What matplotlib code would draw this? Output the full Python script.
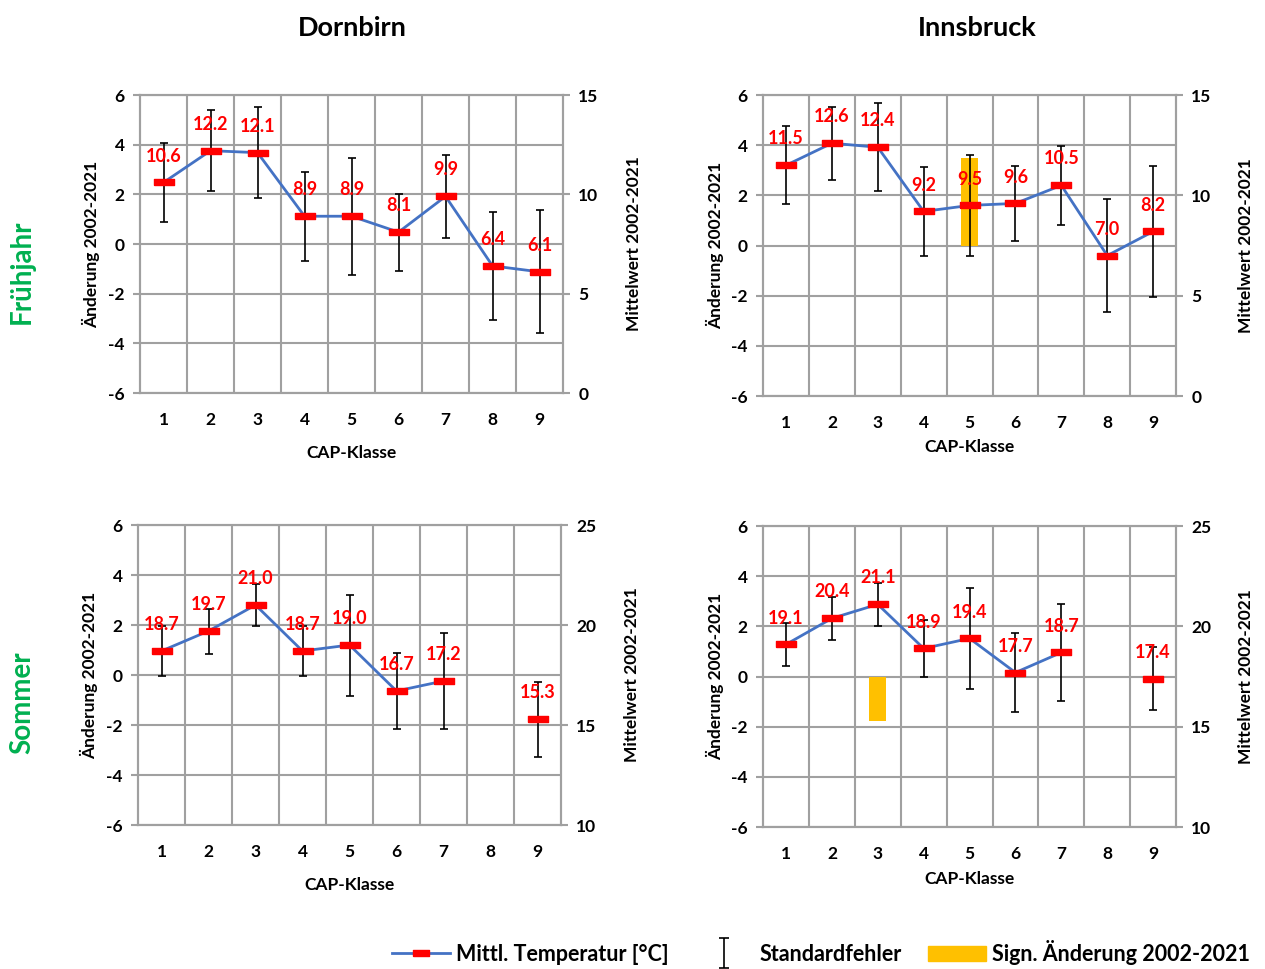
import numpy as np
import matplotlib
matplotlib.use("Agg")
import matplotlib.pyplot as plt
from matplotlib.lines import Line2D
from matplotlib.patches import Patch
from matplotlib.path import Path

plt.rcParams['font.family'] = ['Lato', 'DejaVu Sans']
plt.rcParams['font.weight'] = 'bold'
plt.rcParams['axes.labelweight'] = 'bold'
plt.rcParams['axes.unicode_minus'] = False

klassen = np.arange(1, 10)

# mittlere Temperatur je CAP-Klasse (rechte Achse)
dornbirn_fj_mittel = [10.6, 12.2, 12.1, 8.9, 8.9, 8.1, 9.9, 6.4, 6.1]
innsbruck_fj_mittel = [11.5, 12.6, 12.4, 9.2, 9.5, 9.6, 10.5, 7.0, 8.2]
dornbirn_so_mittel = [18.7, 19.7, 21.0, 18.7, 19.0, 16.7, 17.2, np.nan, 15.3]
innsbruck_so_mittel = [19.1, 20.4, 21.1, 18.9, 19.4, 17.7, 18.7, np.nan, 17.4]

# Standardfehler der Aenderung (linke Achse)
dornbirn_fj_fehler = [1.58, 1.63, 1.83, 1.80, 2.35, 1.55, 1.68, 2.18, 2.48]
innsbruck_fj_fehler = [1.55, 1.45, 1.75, 1.78, 2.02, 1.48, 1.58, 2.25, 2.62]
dornbirn_so_fehler = [1.00, 0.90, 0.85, 1.00, 2.02, 1.52, 1.93, np.nan, 1.50]
innsbruck_so_fehler = [0.87, 0.86, 0.85, 1.12, 2.03, 1.57, 1.93, np.nan, 1.27]

# signifikante Aenderung 2002-2021 (NaN = nicht signifikant)
dornbirn_fj_sign = [np.nan] * 9
innsbruck_fj_sign = [np.nan, np.nan, np.nan, np.nan, 3.5, np.nan, np.nan, np.nan, np.nan]
dornbirn_so_sign = [np.nan] * 9
innsbruck_so_sign = [np.nan, np.nan, -1.78, np.nan, np.nan, np.nan, np.nan, np.nan, np.nan]

blau = '#4472C4'
rot = '#FF0000'
orange = '#FFC000'
grau = '#A0A0A0'

# liegender Balken als Marker
balken = [(-1, -0.33), (1, -0.33), (1, 0.33), (-1, 0.33), (-1, -0.33)]


def panel(rect, mittel, fehler, sign, rechts, xlab_y):
    ax = fig.add_axes(rect)
    ax2 = ax.twinx()
    ax.set_xlim(0.5, 9.5)
    ax.set_ylim(-6, 6)
    ax.set_yticks([-6, -4, -2, 0, 2, 4, 6])
    ax2.set_ylim(rechts)
    ax2.set_yticks(np.linspace(rechts[0], rechts[1], 4))
    ax.set_xticks(klassen)
    ax.set_xticks(np.arange(1.5, 9.5, 1), minor=True)
    ax.grid(True, which='minor', axis='x', color=grau, lw=1.5)
    ax.grid(True, which='major', axis='y', color=grau, lw=1.5)
    for a in (ax, ax2):
        for s in a.spines.values():
            s.set_color(grau)
            s.set_linewidth(1.5)
        a.tick_params(axis='y', colors=grau, length=5, width=1.5,
                      labelcolor='black', labelsize=12.5, pad=6)
    ax.tick_params(axis='x', which='both', length=0, labelsize=12.5, pad=14)
    ax.set_axisbelow(True)

    # signifikante Aenderung
    ax.bar(klassen, sign, width=0.38, color=orange, zorder=2)

    faktor = (rechts[1] - rechts[0]) / 12.0
    yerr = np.array(fehler) * faktor
    ax2.errorbar(klassen, mittel, yerr=yerr, fmt='none', ecolor='black',
                 elinewidth=1.2, capsize=3, capthick=1.2, zorder=3)
    ax2.plot(klassen, mittel, color=blau, lw=2, zorder=4)
    ax2.plot(klassen, mittel, ls='none', marker=balken, markersize=15,
             color=rot, mec=rot, zorder=5)
    for x, v in zip(klassen, mittel):
        if not np.isnan(v):
            ax2.annotate(f'{v:.1f}', (x, v), xytext=(0, 19),
                         textcoords='offset points', ha='center', va='center',
                         color=rot, fontsize=13, fontweight='bold', zorder=6)

    ax.set_ylabel('Änderung 2002-2021', fontsize=12.5)
    ax2.set_ylabel('Mittelwert 2002-2021', fontsize=12.5)
    ax.yaxis.set_label_coords(-0.095, 0.5)
    ax2.yaxis.set_label_coords(1.149, 0.5)
    ax.set_xlabel('CAP-Klasse', fontsize=12.5)
    ax.xaxis.set_label_coords(0.5, xlab_y)
    return ax


fig = plt.figure(figsize=(12.65, 9.69), dpi=100)

panel([0.1107, 0.5944, 0.3344, 0.3075], dornbirn_fj_mittel, dornbirn_fj_fehler,
      dornbirn_fj_sign, (0, 15), -0.175)
panel([0.6032, 0.5913, 0.3265, 0.3106], innsbruck_fj_mittel, innsbruck_fj_fehler,
      innsbruck_fj_sign, (0, 15), -0.143)
panel([0.1091, 0.1486, 0.3344, 0.3096], dornbirn_so_mittel, dornbirn_so_fehler,
      dornbirn_so_sign, (10, 25), -0.173)
panel([0.6032, 0.1465, 0.3265, 0.3106], innsbruck_so_mittel, innsbruck_so_fehler,
      innsbruck_so_sign, (10, 25), -0.146)

fig.text(352 / 1265, 1 - 28 / 969, 'Dornbirn', ha='center', va='center',
         fontsize=19.5, fontweight='bold')
fig.text(977 / 1265, 1 - 28 / 969, 'Innsbruck', ha='center', va='center',
         fontsize=19.5, fontweight='bold')
fig.text(22 / 1265, 1 - 272 / 969, 'Frühjahr', rotation=90, ha='center',
         va='center', fontsize=20, fontweight='bold', color='#00B050')
fig.text(22 / 1265, 1 - 703 / 969, 'Sommer', rotation=90, ha='center',
         va='center', fontsize=20, fontweight='bold', color='#00B050')

# Legende
i_form = Path([(-0.35, -1), (0.35, -1), (0, -1), (0, 1), (-0.35, 1), (0.35, 1)],
              [Path.MOVETO, Path.LINETO, Path.MOVETO, Path.LINETO,
               Path.MOVETO, Path.LINETO])
handles = [
    Line2D([], [], color=blau, lw=2, marker=balken, markersize=11,
           mfc=rot, mec=rot),
    Line2D([], [], ls='none', marker=i_form, markersize=21, mfc='none',
           mec='black', mew=1.2),
    Patch(color=orange),
]
labels = ['Mittl. Temperatur [°C]', 'Standardfehler', 'Sign. Änderung 2002-2021']
fig.legend(handles, labels, loc='center', bbox_to_anchor=(0.649, 0.017),
           ncol=3, frameon=False, fontsize=15.5, handlelength=2.7,
           columnspacing=1.2, handletextpad=0.3)

fig.savefig('out.png', dpi=100)
